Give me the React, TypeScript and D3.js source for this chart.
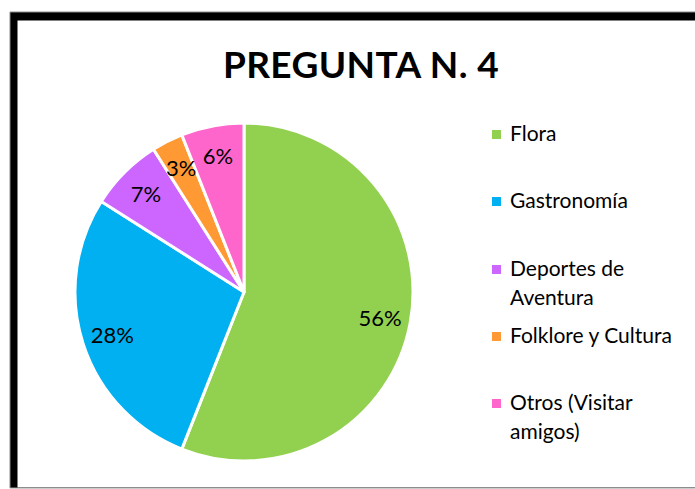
import React from 'react';
import * as d3 from 'd3';

const categories = ['Flora', 'Gastronomía', 'Deportes de Aventura', 'Folklore y Cultura', 'Otros (Visitar amigos)'];
const values = [56, 28, 7, 3, 6];
const colors = ['#92D050', '#00B0F0', '#CC66FF', '#FF9933', '#FF66CC'];
// legend text broken in lines the way the original wraps it
const legendLines = [['Flora'], ['Gastronomía'], ['Deportes de', 'Aventura'], ['Folklore y Cultura'], ['Otros (Visitar', 'amigos)']];
const legendBaselines = [141, 208, 276, 343, 410];

const W = 695;
const H = 489;
const FONT = 'Lato, Carlito, Calibri, sans-serif';

const App = () => {
  const cx = 244;
  const cy = 292;
  const radius = 169;

  const rows = categories.map((c, i) => ({ name: c, value: values[i], color: colors[i] }));

  const pie = d3.pie<any>()
    .value(d => d.value)
    .sort(null)
    .startAngle(0)
    .endAngle(2 * Math.PI);

  const arcs = pie(rows);
  const arc = d3.arc<any>().innerRadius(0).outerRadius(radius);
  const labelArc = d3.arc<any>().innerRadius(radius * 0.82).outerRadius(radius * 0.82);

  return (
    <div style={{ position: 'absolute', left: 0, top: 0 }}>
      <svg width={W} height={H} style={{ display: 'block', background: '#fff' }}>
        {/* frame: thick black top/left edge, thin grey outline */}
        <rect x={10} y={12} width={W} height={476} fill="#000" />
        <rect x={17.5} y={20.5} width={W} height={467} fill="#fff" />
        <line x1={10} x2={W} y1={488} y2={488} stroke="#9a9a9a" strokeWidth={1.2} />
        <line x1={10} x2={W} y1={12} y2={12} stroke="#8a8a8a" strokeWidth={1} />
        <line x1={10} x2={10} y1={12} y2={488} stroke="#8a8a8a" strokeWidth={1} />

        <text x={361} y={78} textAnchor="middle" fontFamily={FONT} fontWeight={700} fontSize={37} letterSpacing={0.4} fill="#000">
          PREGUNTA N. 4
        </text>

        <g transform={`translate(${cx},${cy})`}>
          {arcs.map((a, i) => (
            <path key={i} d={arc(a) as string} fill={a.data.color} stroke="#fff" strokeWidth={3} strokeLinejoin="round" />
          ))}
          {arcs.map((a, i) => {
            const [lx, ly] = labelArc.centroid(a);
            return (
              <text key={'l' + i} x={lx} y={ly} dy="0.36em" textAnchor="middle" fontFamily={FONT} fontSize={22} fill="#000">
                {a.data.value}%
              </text>
            );
          })}
        </g>

        <g>
          {legendLines.map((lines, i) => (
            <g key={i}>
              <rect x={492} y={legendBaselines[i] - 11} width={9} height={9} fill={colors[i]} />
              {lines.map((t, j) => (
                <text key={j} x={510} y={legendBaselines[i] + j * 29} fontFamily={FONT} fontSize={21} fill="#000">
                  {t}
                </text>
              ))}
            </g>
          ))}
        </g>
      </svg>
    </div>
  );
};

export default App;
